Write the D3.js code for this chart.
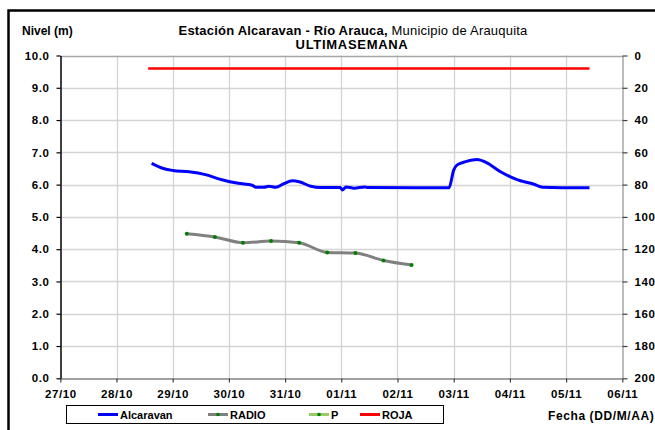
<!DOCTYPE html>
<html>
<head>
<meta charset="utf-8">
<script src="https://cdn.jsdelivr.net/npm/d3@7"></script>
<style>
  html, body { margin: 0; padding: 0; background: #fff; }
  svg { display: block; }
  text { font-family: "Liberation Sans", Arial, sans-serif; fill: #000; }
</style>
</head>
<body>
<div id="chart"></div>
<script>
// ---------- DATA ----------
const YEAR = "2014";
const dayTicks = ["10-27","10-28","10-29","10-30","10-31","11-01","11-02","11-03","11-04","11-05","11-06"];
const leftTicks = [0,1,2,3,4,5,6,7,8,9,10];
const rightTicks = [0,20,40,60,80,100,120,140,160,180,200];

const alcaravanTimes = ["10-28 15:00","10-28 20:00","10-29 00:00","10-29 07:00","10-29 14:00","10-29 21:00","10-30 04:00","10-30 10:00","10-30 11:30","10-30 15:00","10-30 17:00","10-30 20:00","10-30 23:30","10-31 03:00","10-31 06:00","10-31 11:00","10-31 15:00","10-31 23:30","11-01 00:30","11-01 02:00","11-01 05:30","11-01 10:00","11-01 11:00","11-02 22:00","11-03 00:00","11-03 01:30","11-03 05:30","11-03 10:00","11-03 14:00","11-03 20:00","11-04 00:00","11-04 04:30","11-04 10:00","11-04 14:00","11-05 10:00"];
const alcaravanValues = [6.66,6.50,6.44,6.40,6.31,6.15,6.04,5.98,5.92,5.92,5.95,5.92,6.03,6.12,6.09,5.95,5.91,5.91,5.83,5.93,5.89,5.93,5.91,5.90,6.45,6.61,6.72,6.78,6.68,6.40,6.25,6.12,6.02,5.92,5.90];

const radioTimes = ["10-29 06:00","10-29 18:00","10-30 06:00","10-30 18:00","10-31 06:00","10-31 18:00","11-01 06:00","11-01 18:00","11-02 06:00"];
const radioValues = [4.48,4.38,4.20,4.25,4.20,3.90,3.88,3.65,3.51];

const pTimes = [];
const pValues = [];

const rojaTimes = ["10-28 13:30","11-05 10:00"];
const rojaValues = [9.6,9.6];

const seriesNames = ["Alcaravan","RADIO","P","ROJA"];

// ---------- SETUP ----------
const W = 655, H = 430;
const M = {left: 60.3, right: 622.3, top: 55.5, bottom: 378.3};
const parse = d3.utcParse("%Y-%m-%d %H:%M");
const pd = s => parse(YEAR + "-" + s + (s.length === 5 ? " 00:00" : ""));

const svg = d3.select("#chart").append("svg").attr("width", W).attr("height", H);

const x = d3.scaleUtc().domain([pd(dayTicks[0]), pd(dayTicks[dayTicks.length-1])]).range([M.left, M.right]);
const y = d3.scaleLinear().domain([0, 10]).range([M.bottom, M.top]);
const y2 = d3.scaleLinear().domain([0, 200]).range([M.top, M.bottom]);

// outer border
svg.append("rect").attr("x", 8.5).attr("y", 10.5).attr("width", 720).attr("height", 500)
  .attr("fill", "none").attr("stroke", "#000").attr("stroke-width", 2.5);

// gridlines
const grid = svg.append("g");
grid.selectAll("line.v").data(dayTicks.slice(1, -1)).join("line")
  .attr("x1", d => Math.round(x(pd(d))) + 0.5).attr("x2", d => Math.round(x(pd(d))) + 0.5)
  .attr("y1", M.top).attr("y2", M.bottom).attr("stroke", "#d4d4d4").attr("stroke-width", 1.3);
grid.selectAll("line.h").data(leftTicks.slice(1, -1)).join("line")
  .attr("x1", M.left).attr("x2", M.right)
  .attr("y1", d => Math.round(y(d)) + 0.5).attr("y2", d => Math.round(y(d)) + 0.5)
  .attr("stroke", "#d4d4d4").attr("stroke-width", 1.3);
// top frame
svg.append("line").attr("x1", M.left).attr("x2", M.right).attr("y1", Math.round(M.top)+0.5).attr("y2", Math.round(M.top)+0.5)
  .attr("stroke", "#a6a6a6").attr("stroke-width", 1.3);

const tickFont = g => g.selectAll("text")
  .attr("font-size", "11.5px").attr("font-weight", "bold").attr("letter-spacing", "0.6px")
  .attr("font-family", "'Liberation Sans', Arial, sans-serif").attr("fill", "#000");

// bottom axis
const xAxis = svg.append("g").attr("transform", `translate(0,${Math.round(M.bottom)+0.5})`)
  .call(d3.axisBottom(x).tickValues(dayTicks.map(pd)).tickFormat(d3.utcFormat("%d/%m")).tickSize(4).tickSizeOuter(0));
xAxis.select(".domain").attr("stroke", "#808080").attr("stroke-width", 1.5);
xAxis.selectAll(".tick line").attr("stroke", "#404040").attr("stroke-width", 1.2);
xAxis.call(tickFont);
xAxis.selectAll("text").attr("dy", "1.05em");

// left axis
const yAxis = svg.append("g").attr("transform", `translate(${Math.round(M.left)+0.5},0)`)
  .call(d3.axisLeft(y).tickValues(leftTicks).tickFormat(d3.format(".1f")).tickSize(4).tickSizeOuter(0));
yAxis.select(".domain").attr("stroke", "#000").attr("stroke-width", 1.5);
yAxis.selectAll(".tick line").attr("stroke", "#000").attr("stroke-width", 1.2);
yAxis.call(tickFont);
yAxis.selectAll("text").attr("x", -11);

// right axis
const yAxis2 = svg.append("g").attr("transform", `translate(${Math.round(M.right)+0.5},0)`)
  .call(d3.axisRight(y2).tickValues(rightTicks).tickFormat(d3.format("d")).tickSize(5).tickSizeOuter(0));
yAxis2.select(".domain").attr("stroke", "#a6a6a6").attr("stroke-width", 1.5);
yAxis2.selectAll(".tick line").attr("stroke", "#404040").attr("stroke-width", 1.2);
yAxis2.call(tickFont);
yAxis2.selectAll("text").attr("x", 12);

// series
const line = d3.line().x(d => x(d[0])).y(d => y(d[1])).curve(d3.curveMonotoneX);
const zip = (t, v) => t.map((s, i) => [pd(s), v[i]]);

const rojaData = zip(rojaTimes, rojaValues);
const alcData = zip(alcaravanTimes, alcaravanValues);
const radioData = zip(radioTimes, radioValues);
const pData = zip(pTimes, pValues);

svg.append("path").datum(rojaData).attr("d", line).attr("fill", "none").attr("stroke", "#ff0000").attr("stroke-width", 2.5);
svg.append("path").datum(radioData).attr("d", line).attr("fill", "none").attr("stroke", "#808080").attr("stroke-width", 3);
svg.selectAll("circle.radio").data(radioData).join("circle")
  .attr("cx", d => x(d[0])).attr("cy", d => y(d[1])).attr("r", 2).attr("fill", "#008000");
svg.append("path").datum(pData).attr("d", line).attr("fill", "none").attr("stroke", "#99cc66").attr("stroke-width", 2.5);
svg.append("path").datum(alcData).attr("d", line).attr("fill", "none").attr("stroke", "#0000ff").attr("stroke-width", 3)
  .attr("stroke-linejoin", "round");

// titles
svg.append("text").attr("x", 22).attr("y", 35).attr("font-size", "12px").attr("font-weight", "bold").text("Nivel (m)");
const t = svg.append("text").attr("x", 353).attr("y", 35).attr("text-anchor", "middle").attr("font-size", "13px").attr("letter-spacing", "0.2px");
t.append("tspan").attr("font-weight", "bold").text("Estación Alcaravan - Río Arauca,");
t.append("tspan").text(" Municipio de Arauquita");
svg.append("text").attr("x", 352).attr("y", 48.5).attr("text-anchor", "middle").attr("font-size", "13px").attr("font-weight", "bold")
  .attr("letter-spacing", "0.7px").text("ULTIMASEMANA");
svg.append("text").attr("x", 548).attr("y", 420).attr("font-size", "12px").attr("font-weight", "bold").attr("letter-spacing", "0.6px")
  .text("Fecha (DD/M/AA)");

// legend
const lg = svg.append("g");
lg.append("rect").attr("x", 66.5).attr("y", 405.5).attr("width", 377).attr("height", 18).attr("fill", "#fff").attr("stroke", "#000").attr("stroke-width", 1);
const legendItems = [
  {name: seriesNames[0], x: 98, color: "#0000ff", marker: false},
  {name: seriesNames[1], x: 208, color: "#808080", marker: true},
  {name: seriesNames[2], x: 309, color: "#99cc66", marker: true},
  {name: seriesNames[3], x: 360, color: "#ff0000", marker: false}
];
const li = lg.selectAll("g.item").data(legendItems).join("g");
li.append("line").attr("x1", d => d.x).attr("x2", d => d.x + 20).attr("y1", 414.5).attr("y2", 414.5)
  .attr("stroke", d => d.color).attr("stroke-width", 3);
li.filter(d => d.marker).append("circle").attr("cx", d => d.x + 10).attr("cy", 414.5).attr("r", 1.8).attr("fill", "#008000");
li.append("text").attr("x", d => d.x + 22).attr("y", 418.5).attr("font-size", "11px").attr("font-weight", "bold")
  .text(d => d.name);
</script>
</body>
</html>
